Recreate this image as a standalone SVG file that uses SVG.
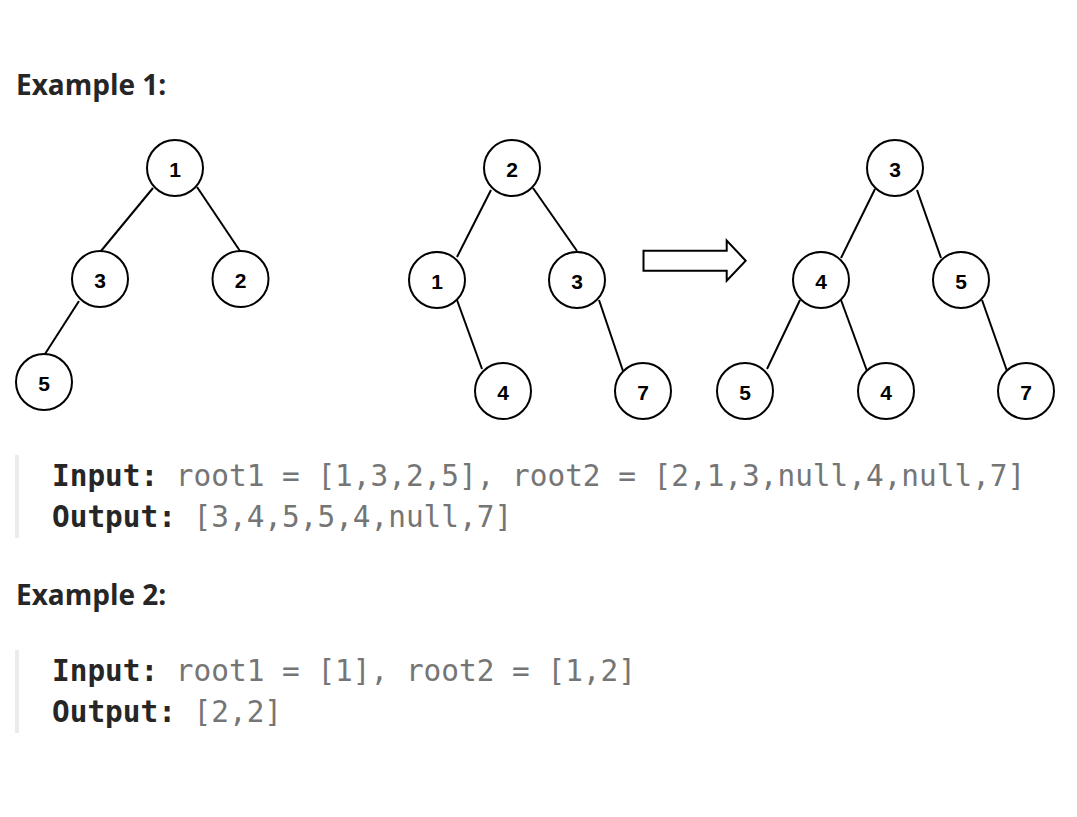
<svg xmlns="http://www.w3.org/2000/svg" width="1077" height="817" viewBox="0 0 1077 817">
<style>
.h{font-family:"Open Sans","Liberation Sans",sans-serif;font-weight:700;font-size:28px;fill:#262626}
.node circle{fill:#fff;stroke:#000;stroke-width:2}
.node text{font-family:"Liberation Sans",Arial,sans-serif;font-weight:700;font-size:21px;fill:#000;text-anchor:middle}
.edges line{stroke:#000;stroke-width:2}
.code{font-family:"DejaVu Sans Mono","Liberation Mono",monospace;font-size:29.4px;fill:#757575;white-space:pre}
.code .k{font-weight:700;fill:#262626}
.bar{fill:#ebebeb}
</style>
<rect width="1077" height="817" fill="#fff"/>
<text class="h" x="16" y="95">Example 1:</text>
<g class="edges">
<line x1="153" y1="188" x2="101" y2="251"/>
<line x1="197" y1="187" x2="240" y2="251"/>
<line x1="79" y1="301" x2="45" y2="354"/>
<line x1="491" y1="190" x2="457" y2="257"/>
<line x1="533" y1="188" x2="577" y2="251"/>
<line x1="457" y1="300" x2="482" y2="369"/>
<line x1="599" y1="300" x2="623" y2="371"/>
<line x1="875" y1="189" x2="841" y2="258"/>
<line x1="917" y1="190" x2="941" y2="258"/>
<line x1="800" y1="300" x2="767" y2="369"/>
<line x1="841" y1="300" x2="867" y2="371"/>
<line x1="982" y1="300" x2="1007" y2="371"/>
</g>
<g id="t1n1" class="node"><circle cx="175" cy="168" r="28"/><text x="175" y="177">1</text></g>
<g id="t1n3" class="node"><circle cx="100" cy="279" r="28"/><text x="100" y="288">3</text></g>
<g id="t1n2" class="node"><circle cx="240.5" cy="279" r="28"/><text x="240.5" y="288">2</text></g>
<g id="t1n5" class="node"><circle cx="44" cy="382" r="28"/><text x="44" y="391">5</text></g>
<g id="t2n2" class="node"><circle cx="512" cy="168" r="28"/><text x="512" y="177">2</text></g>
<g id="t2n1" class="node"><circle cx="437" cy="280" r="28"/><text x="437" y="289">1</text></g>
<g id="t2n3" class="node"><circle cx="577" cy="280" r="28"/><text x="577" y="289">3</text></g>
<g id="t2n4" class="node"><circle cx="503" cy="391" r="28"/><text x="503" y="400">4</text></g>
<g id="t2n7" class="node"><circle cx="643" cy="391" r="28"/><text x="643" y="400">7</text></g>
<g id="arrow"><polygon points="643.5,250.7 726.7,250.7 726.7,240.5 745.7,260.7 726.7,280.7 726.7,270.7 643.5,270.7" fill="#fff" stroke="#000" stroke-width="2" stroke-linejoin="miter"/></g>
<g id="r3" class="node"><circle cx="895" cy="168" r="28"/><text x="895" y="177">3</text></g>
<g id="r4" class="node"><circle cx="821" cy="280" r="28"/><text x="821" y="289">4</text></g>
<g id="r5" class="node"><circle cx="961" cy="280" r="28"/><text x="961" y="289">5</text></g>
<g id="r5b" class="node"><circle cx="745" cy="391" r="28"/><text x="745" y="400">5</text></g>
<g id="r4b" class="node"><circle cx="886" cy="391" r="28"/><text x="886" y="400">4</text></g>
<g id="r7" class="node"><circle cx="1026" cy="391" r="28"/><text x="1026" y="400">7</text></g>
<rect class="bar" x="15" y="455" width="4" height="83"/>
<text class="code" x="52" y="486"><tspan class="k">Input:</tspan> root1 = [1,3,2,5], root2 = [2,1,3,null,4,null,7]</text>
<text class="code" x="52" y="527"><tspan class="k">Output:</tspan> [3,4,5,5,4,null,7]</text>
<text class="h" x="16" y="605">Example 2:</text>
<rect class="bar" x="15" y="650" width="4" height="83"/>
<text class="code" x="52" y="681"><tspan class="k">Input:</tspan> root1 = [1], root2 = [1,2]</text>
<text class="code" x="52" y="722"><tspan class="k">Output:</tspan> [2,2]</text>
</svg>
